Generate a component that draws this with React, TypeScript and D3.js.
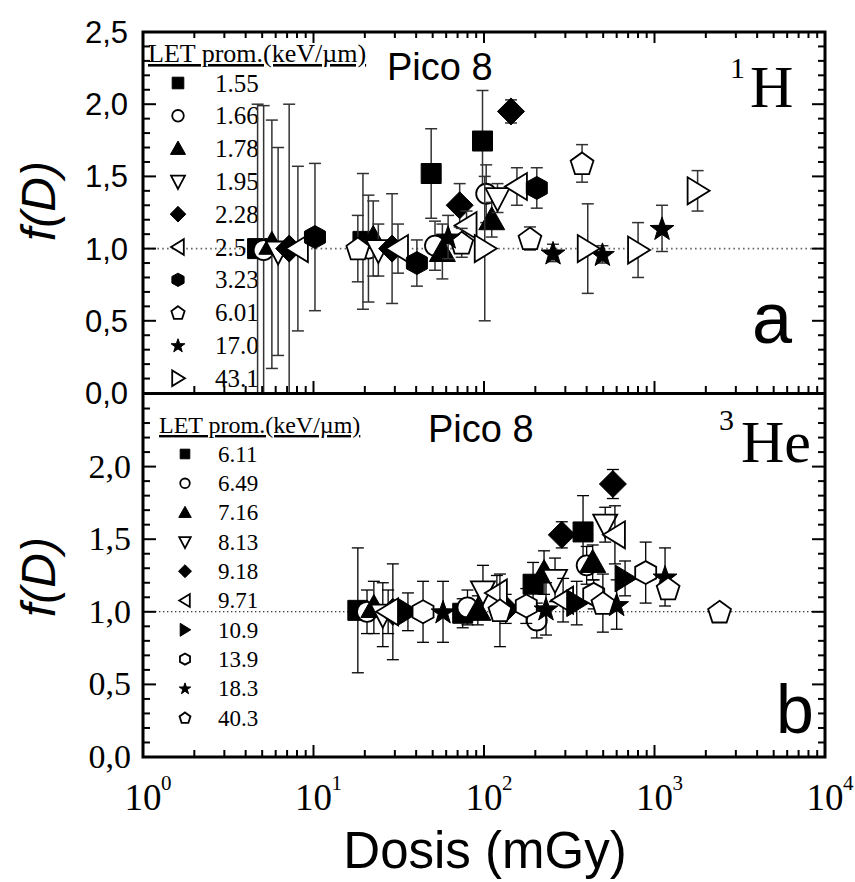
import React from 'react';
import * as d3 from 'd3';

type Pt = [number, number, number]; // [dose mGy, f(D), error]

// ---------- tick values / labels ----------
const xDecades = [1, 10, 100, 1000, 10000];
const xDecadeExp = ['0', '1', '2', '3', '4'];
const yMajor = [0, 0.5, 1, 1.5, 2, 2.5];
const yMajorLabels = ['0,0', '0,5', '1,0', '1,5', '2,0', '2,5'];

// ---------- panel a : 1H ----------
const letTop = ['1.55', '1.66', '1.78', '1.95', '2.28', '2.55', '3.23', '6.01', '17.0', '43.1'];
const shapeTop = ['square', 'circle', 'triUp', 'triDown', 'diamond', 'triLeft', 'hexagon', 'pentagon', 'star', 'triRight'];
const filledTop = [true, false, true, false, true, false, true, false, true, false];

const h155: Pt[] = [[4.7, 1.0, 1.0], [19.5, 1.05, 0.47], [49, 1.52, 0.31], [98, 1.745, 0.35]];
const h166: Pt[] = [[5.1, 0.99, 1.0], [21, 1.0, 0.37], [51.6, 1.02, 0.17], [103, 1.38, 0.2]];
const h178: Pt[] = [[5.7, 1.03, 0.86], [22.4, 1.07, 0.26], [57, 0.98, 0.19], [111, 1.2, 0.12]];
const h195: Pt[] = [[6.2, 0.98, 0.72], [24, 0.99, 0.18], [120, 1.35, 0.1]];
const h228: Pt[] = [[7.2, 1.0, 1.0], [28.9, 1.0, 0.38], [72, 1.3, 0.15], [144, 1.95, 0.08]];
const h255: Pt[] = [[8.1, 1.0, 0.57], [31.3, 1.0, 0.17], [79, 1.16, 0.1], [156, 1.43, 0.13]];
const h323: Pt[] = [[10.2, 1.08, 0.51], [40.4, 0.9, 0.16], [204, 1.42, 0.14]];
const h601: Pt[] = [[18.2, 1.0, 0.23], [74, 1.04, 0.1], [186, 1.07, 0.08], [376, 1.59, 0.13]];
const h170: Pt[] = [[61.6, 1.08, 0.15], [254, 0.97, 0.06], [495, 0.96, 0.06], [1107, 1.14, 0.16]];
const h431: Pt[] = [[101, 1.0, 0.5], [406, 1.0, 0.31], [801, 0.99, 0.19], [1790, 1.4, 0.14]];
const seriesTop = [h155, h166, h178, h195, h228, h255, h323, h601, h170, h431];

// ---------- panel b : 3He ----------
const letBot = ['6.11', '6.49', '7.16', '8.13', '9.18', '9.71', '10.9', '13.9', '18.3', '40.3'];
const shapeBot = ['square', 'circle', 'triUp', 'triDown', 'diamond', 'triLeft', 'triRight', 'hexagon', 'star', 'pentagon'];
const filledBot = [true, false, true, false, true, false, true, false, true, false];

const he611: Pt[] = [[18.2, 1.01, 0.43], [75, 0.99, 0.1], [194, 1.19, 0.15], [381, 1.55, 0.25]];
const he649: Pt[] = [[20.6, 1.0, 0.15], [80, 1.03, 0.12], [204, 0.94, 0.12], [400, 1.32, 0.13]];
const he716: Pt[] = [[22.6, 1.03, 0.18], [92, 1.01, 0.1], [225, 1.27, 0.15], [434, 1.34, 0.12]];
const he813: Pt[] = [[25.5, 0.98, 0.22], [98.6, 1.14, 0.18], [261, 1.22, 0.15], [514, 1.6, 0.12]];
const he918: Pt[] = [[29.2, 1.0, 0.33], [134, 1.02, 0.1], [286, 1.53, 0.09], [570, 1.88, 0.1]];
const he971: Pt[] = [[27.4, 1.0, 0.15], [119, 1.13, 0.12], [291, 1.08, 0.15], [586, 1.53, 0.2]];
const he109: Pt[] = [[35.8, 1.0, 0.13], [350, 1.06, 0.15], [672, 1.23, 0.12]];
const he139: Pt[] = [[43.9, 1.0, 0.21], [177, 1.04, 0.12], [440, 1.12, 0.1], [888, 1.27, 0.21]];
const he183: Pt[] = [[57.5, 1.0, 0.21], [231, 1.02, 0.18], [600, 1.05, 0.17], [1153, 1.24, 0.2]];
const he403: Pt[] = [[124, 1.01, 0.25], [498, 1.06, 0.2], [1202, 1.16, 0.03], [2407, 1.0, 0.05]];
const seriesBot = [he611, he649, he716, he813, he918, he971, he109, he139, he183, he403];

// ---------- geometry ----------
const W = 855, H = 882;
const X0 = 143, X1 = 825;
const x = d3.scaleLog().domain([1, 10000]).range([X0, X1]);
const yTop = d3.scaleLinear().domain([0, 2.5]).range([393, 32]);
const yBot = d3.scaleLinear().domain([0, 2.5]).range([757, 394]);

const SERIF = '"Liberation Serif", "Times New Roman", serif';
const SANS = '"Liberation Sans", Arial, sans-serif';

function shapePath(type: string, k: number): string {
  const p = d3.path();
  const poly = (pts: number[][]) => {
    pts.forEach(([a, b], i) => (i === 0 ? p.moveTo(a * k, b * k) : p.lineTo(a * k, b * k)));
    p.closePath();
  };
  switch (type) {
    case 'square':
      poly([[-10, -10], [10, -10], [10, 10], [-10, 10]]);
      break;
    case 'circle':
      p.moveTo(10 * k, 0);
      p.arc(0, 0, 10 * k, 0, Math.PI * 2);
      p.closePath();
      break;
    case 'triUp':
      poly([[0, -13], [13, 10], [-13, 10]]);
      break;
    case 'triDown':
      poly([[0, 13], [12, -10], [-12, -10]]);
      break;
    case 'triLeft':
      poly([[-12, 0], [10, -13.5], [10, 13.5]]);
      break;
    case 'triRight':
      poly([[12, 0], [-10, -13.5], [-10, 13.5]]);
      break;
    case 'diamond':
      poly([[0, -13.5], [13.5, 0], [0, 13.5], [-13.5, 0]]);
      break;
    case 'hexagon':
      poly([[0, -11.5], [10.5, -5.75], [10.5, 5.75], [0, 11.5], [-10.5, 5.75], [-10.5, -5.75]]);
      break;
    case 'pentagon': {
      const pts: number[][] = [];
      for (let i = 0; i < 5; i++) {
        const a = -Math.PI / 2 + (i * 2 * Math.PI) / 5;
        pts.push([12 * Math.cos(a), 12 * Math.sin(a) + 1]);
      }
      poly(pts);
      break;
    }
    case 'star': {
      const pts: number[][] = [];
      for (let i = 0; i < 10; i++) {
        const a = -Math.PI / 2 + (i * Math.PI) / 5;
        const r = i % 2 === 0 ? 12.5 : 5;
        pts.push([r * Math.cos(a), r * Math.sin(a) + 1]);
      }
      poly(pts);
      break;
    }
  }
  return p.toString();
}

function Marker({ type, filled, cx, cy, k }: { type: string; filled: boolean; cx: number; cy: number; k: number }) {
  return (
    <path
      d={shapePath(type, k)}
      transform={`translate(${cx},${cy})`}
      fill={filled ? '#000' : '#fff'}
      stroke="#000"
      strokeWidth={filled ? 1 : 1.8}
      strokeLinejoin="miter"
    />
  );
}

function Frame({ y, yTopPx, yBotPx, topTicks }: { y: d3.ScaleLinear<number, number>; yTopPx: number; yBotPx: number; topTicks: boolean }) {
  const minorX: number[] = [];
  for (let e = 0; e < 4; e++) for (let m = 2; m <= 9; m++) minorX.push(m * Math.pow(10, e));
  const minorY: number[] = [];
  for (let i = 0; i <= 25; i++) minorY.push(i / 10);
  const lines: JSX.Element[] = [];
  let key = 0;
  xDecades.forEach((d) => {
    lines.push(<line key={key++} x1={x(d)} x2={x(d)} y1={yBotPx} y2={yBotPx - 12} />);
    if (topTicks) lines.push(<line key={key++} x1={x(d)} x2={x(d)} y1={yTopPx} y2={yTopPx + 11} />);
  });
  minorX.forEach((d) => {
    lines.push(<line key={key++} x1={x(d)} x2={x(d)} y1={yBotPx} y2={yBotPx - 7} />);
    if (topTicks) lines.push(<line key={key++} x1={x(d)} x2={x(d)} y1={yTopPx} y2={yTopPx + 6} />);
  });
  minorY.forEach((v) => {
    const major = Math.abs(v * 2 - Math.round(v * 2)) < 1e-6;
    const len = major ? 13 : 7;
    lines.push(<line key={key++} x1={X0} x2={X0 + len} y1={y(v)} y2={y(v)} />);
    lines.push(<line key={key++} x1={X1} x2={X1 - len} y1={y(v)} y2={y(v)} />);
  });
  return (
    <g stroke="#000" strokeWidth={2}>
      {lines}
    </g>
  );
}

function DataLayer({
  series, shapes, filled, y, clipId, errColor, errWidth,
}: {
  series: Pt[][]; shapes: string[]; filled: boolean[]; y: d3.ScaleLinear<number, number>; clipId: string; errColor: string; errWidth: number;
}) {
  return (
    <g clipPath={`url(#${clipId})`}>
      {series.map((pts, si) => (
        <g key={si}>
          {pts.map(([d, v, e], i) => {
            const cx = x(d);
            return (
              <g key={'e' + i} stroke={errColor} strokeWidth={errWidth}>
                <line x1={cx} x2={cx} y1={y(v - e)} y2={y(v + e)} />
                <line x1={cx - 6} x2={cx + 6} y1={y(v - e)} y2={y(v - e)} />
                <line x1={cx - 6} x2={cx + 6} y1={y(v + e)} y2={y(v + e)} />
              </g>
            );
          })}
          {pts.map(([d, v], i) => (
            <Marker key={'m' + i} type={shapes[si]} filled={filled[si]} cx={x(d)} cy={y(v)} k={1} />
          ))}
        </g>
      ))}
    </g>
  );
}

function Legend({
  labels, shapes, filled, x0, xs, xt, yHead, y0, dy, fs, k,
}: {
  labels: string[]; shapes: string[]; filled: boolean[]; x0: number; xs: number; xt: number; yHead: number; y0: number; dy: number; fs: number; k: number;
}) {
  return (
    <g>
      <text x={x0} y={yHead} fontFamily={SERIF} fontSize={fs + 1} textDecoration="underline">
        LET prom.(keV/µm)
      </text>
      {labels.map((l, i) => {
        const cy = y0 + i * dy;
        return (
          <g key={l}>
            <Marker type={shapes[i]} filled={filled[i]} cx={xs} cy={cy} k={k} />
            <text x={xt} y={cy + fs * 0.34} fontFamily={SERIF} fontSize={fs}>
              {l}
            </text>
          </g>
        );
      })}
    </g>
  );
}

export default function App() {
  return (
    <svg width={W} height={H} style={{ position: 'absolute', left: 0, top: 0, background: '#fff' }}>
      <defs>
        <clipPath id="clipTop">
          <rect x={X0} y={32} width={X1 - X0} height={393 - 32} />
        </clipPath>
        <clipPath id="clipBot">
          <rect x={X0} y={394} width={X1 - X0} height={757 - 394} />
        </clipPath>
      </defs>
      <rect x={0} y={0} width={W} height={H} fill="#fff" />

      {/* reference lines f(D)=1 */}
      <line x1={X0} x2={X1} y1={yTop(1)} y2={yTop(1)} stroke="#666" strokeWidth={1.6} strokeDasharray="1.6,3.2" />
      <line x1={X0} x2={X1} y1={yBot(1)} y2={yBot(1)} stroke="#000" strokeWidth={1.1} strokeDasharray="1.4,2.6" />

      {/* legends */}
      <Legend labels={letTop} shapes={shapeTop} filled={filledTop} x0={148} xs={178} xt={215} yHead={62} y0={83} dy={32.8} fs={25} k={0.58} />
      <Legend labels={letBot} shapes={shapeBot} filled={filledBot} x0={159} xs={185} xt={218} yHead={433} y0={454} dy={29.3} fs={23} k={0.48} />

      {/* data */}
      <DataLayer series={seriesTop} shapes={shapeTop} filled={filledTop} y={yTop} clipId="clipTop" errColor="#333" errWidth={1.5} />
      <DataLayer series={seriesBot} shapes={shapeBot} filled={filledBot} y={yBot} clipId="clipBot" errColor="#000" errWidth={1.3} />

      {/* frames */}
      <Frame y={yTop} yTopPx={32} yBotPx={393} topTicks={true} />
      <Frame y={yBot} yTopPx={394} yBotPx={757} topTicks={false} />
      <rect x={X0} y={32} width={X1 - X0} height={757 - 32} fill="none" stroke="#000" strokeWidth={3} />
      <line x1={X0} x2={X1} y1={393.5} y2={393.5} stroke="#000" strokeWidth={3} />

      {/* y tick labels */}
      {yMajor.map((v, i) => (
        <text key={'yt' + i} x={128} y={yTop(v) + 11} textAnchor="end" fontFamily={SANS} fontSize={31}>
          {yMajorLabels[i]}
        </text>
      ))}
      {yMajor.slice(0, 5).map((v, i) => (
        <text key={'yb' + i} x={131} y={yBot(v) + 11} textAnchor="end" fontFamily={SERIF} fontSize={34}>
          {yMajorLabels[i]}
        </text>
      ))}

      {/* x tick labels */}
      {xDecades.map((d, i) => (
        <g key={'xt' + i}>
          <text x={x(d)} y={810} textAnchor="middle" fontFamily={SERIF} fontSize={37}>10</text>
          <text x={x(d) + 18} y={790} fontFamily={SERIF} fontSize={21}>{xDecadeExp[i]}</text>
        </g>
      ))}

      {/* axis titles */}
      <text transform="translate(55,201) rotate(-90)" textAnchor="middle" fontFamily={SANS} fontStyle="italic" fontSize={48}>f(D)</text>
      <text transform="translate(55,577) rotate(-90)" textAnchor="middle" fontFamily={SANS} fontStyle="italic" fontSize={48}>f(D)</text>
      <text x={485} y={868} textAnchor="middle" fontFamily={SANS} fontSize={51}>Dosis (mGy)</text>

      {/* annotations */}
      <text x={387} y={80} fontFamily={SANS} fontSize={38}>Pico 8</text>
      <text x={428} y={442} fontFamily={SANS} fontSize={38}>Pico 8</text>
      <text x={730} y={78} fontFamily={SERIF} fontSize={30}>1</text>
      <text x={750} y={107} fontFamily={SERIF} fontSize={60}>H</text>
      <text x={719} y={430} fontFamily={SERIF} fontSize={30}>3</text>
      <text x={741} y={462} fontFamily={SERIF} fontSize={60}>He</text>
      <text x={752} y={343} fontFamily={SANS} fontSize={72}>a</text>
      <text x={776} y={733} fontFamily={SANS} fontSize={68}>b</text>
    </svg>
  );
}
